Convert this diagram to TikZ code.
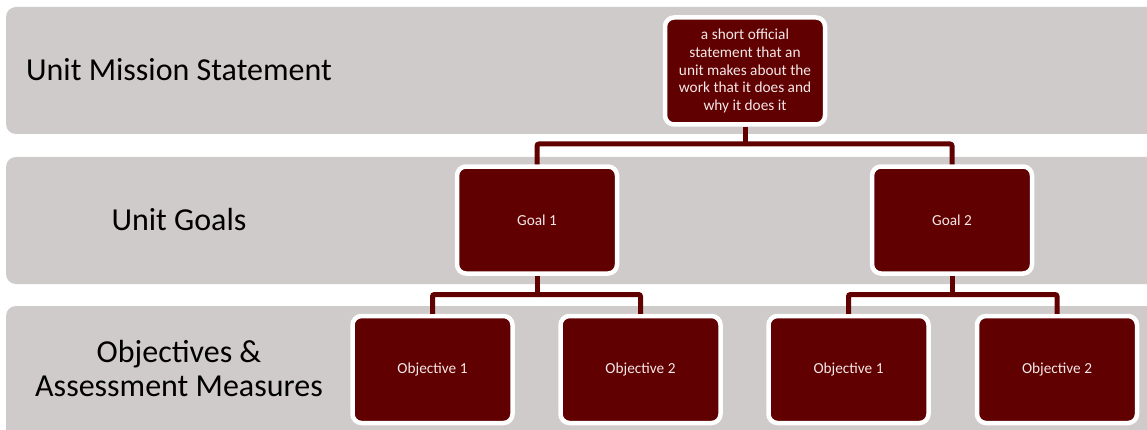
\documentclass[tikz,border=0pt]{standalone}
\usepackage{fontspec}
\setmainfont{Carlito}
\definecolor{bandgray}{RGB}{208,203,203}
\definecolor{darkred}{RGB}{96,0,0}
\definecolor{boxtext}{RGB}{245,232,232}
\begin{document}
\begin{tikzpicture}[x=1pt,y=1pt,
  band/.style={fill=bandgray,rounded corners=10pt},
  rowlabel/.style={font=\fontsize{32}{34}\selectfont,text=black,align=center},
  orgbox/.style={draw=white,line width=4.5pt,fill=darkred,rounded corners=9pt,
    minimum width=160pt,minimum height=107pt,align=center,
    text=boxtext,font=\fontsize{15.3}{17.6}\selectfont,inner sep=0pt},
  conn/.style={draw=darkred,line width=5pt,rounded corners=2pt}]
\clip (0,0) rectangle (1147,429);
\useasboundingbox (0,0) rectangle (1147,429);
\fill[white] (0,0) rectangle (1147,429);
% bands
\path[band] (6,422) rectangle (1170,295);
\path[band] (6,272) rectangle (1170,145);
\path[band] (6,123) rectangle (1170,-20);
% row labels
\node[rowlabel] (l1) at (179,359) {Unit Mission Statement};
\node[rowlabel] (l2) at (179,209) {Unit Goals};
\node[rowlabel] (l3) at (179,60) {Objectives \&\\Assessment Measures};
% connectors (drawn first, behind boxes)
\coordinate (mj) at (745,285);
\coordinate (g1j) at (537,134.5);
\coordinate (g2j) at (952,134.5);
% nodes
\node[orgbox] (mission) at (745,358) {a short official\\statement that an\\unit makes about the\\work that it does and\\why it does it};
\node[orgbox] (goal1) at (537,209) {Goal 1};
\node[orgbox] (goal2) at (952,209) {Goal 2};
\node[orgbox] (o11) at (432.5,59.5) {Objective 1};
\node[orgbox] (o12) at (640.5,59.5) {Objective 2};
\node[orgbox] (o21) at (848.5,59.5) {Objective 1};
\node[orgbox] (o22) at (1057,59.5) {Objective 2};
\draw[conn] (mission.south) -- (mj);
\draw[conn] (mj) -| (goal1.north);
\draw[conn] (mj) -| (goal2.north);
\draw[conn] (goal1.south) -- (g1j);
\draw[conn] (g1j) -| (o11.north);
\draw[conn] (g1j) -| (o12.north);
\draw[conn] (goal2.south) -- (g2j);
\draw[conn] (g2j) -| (o21.north);
\draw[conn] (g2j) -| (o22.north);
\end{tikzpicture}
\end{document}
